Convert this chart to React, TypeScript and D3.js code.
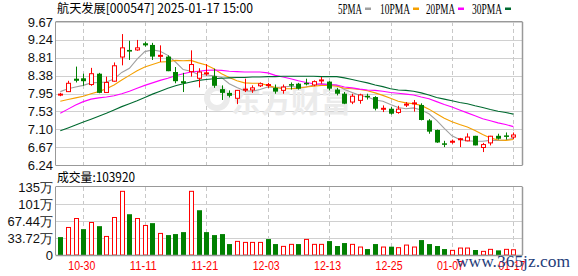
import React from 'react';
import * as d3 from 'd3';

const dates = [
  '10-25','10-28','10-29','10-30','10-31','11-01','11-04','11-05','11-06','11-07','11-08',
  '11-11','11-12','11-13','11-14','11-15','11-18','11-19','11-20','11-21','11-22',
  '11-25','11-26','11-27','11-28','11-29','12-02','12-03','12-04','12-05','12-06',
  '12-09','12-10','12-11','12-12','12-13','12-16','12-17','12-18','12-19','12-20',
  '12-23','12-24','12-25','12-26','12-27','12-30','12-31','01-02','01-03','01-06',
  '01-07','01-08','01-09','01-10','01-13','01-14','01-15','01-16','01-17'
];

const opens = [7.92,8.00,8.31,8.32,8.17,8.43,7.98,8.25,8.83,9.00,9.00,9.16,9.12,8.83,8.84,8.47,8.25,8.48,8.32,8.42,
  8.37,8.06,7.97,7.84,8.04,8.04,8.14,8.15,8.09,8.03,8.18,8.19,8.21,8.16,8.26,8.24,8.05,7.95,7.75,7.79,
  7.90,7.87,7.57,7.59,7.50,7.68,7.71,7.68,7.31,7.08,6.76,6.78,6.85,6.82,6.94,6.66,6.77,6.94,6.95,6.91];
const highs = [7.97,8.26,8.60,8.43,8.57,8.45,8.36,8.70,9.38,9.22,9.24,9.20,9.17,9.11,8.87,8.59,8.45,8.99,8.56,8.66,
  8.55,8.15,8.03,8.04,8.31,8.15,8.22,8.21,8.17,8.17,8.22,8.21,8.31,8.27,8.35,8.25,8.09,7.99,7.95,7.95,
  7.95,7.89,7.67,7.63,7.66,7.75,7.80,7.72,7.34,7.09,6.82,6.85,6.89,7.00,6.94,6.77,6.94,6.99,7.02,7.02];
const lows = [7.89,7.99,8.22,8.14,8.14,7.96,7.98,8.24,8.63,8.76,8.98,9.08,8.76,8.71,8.49,8.20,7.99,8.36,8.10,8.38,
  8.09,7.80,7.86,7.70,7.99,7.97,8.11,8.09,7.95,7.95,8.05,8.05,8.15,8.13,8.19,8.03,7.91,7.70,7.70,7.71,
  7.81,7.55,7.51,7.45,7.47,7.63,7.52,7.31,6.99,6.77,6.67,6.75,6.67,6.81,6.71,6.55,6.71,6.85,6.85,6.86];
const closes = [7.94,8.20,8.26,8.25,8.43,7.97,8.22,8.62,9.05,8.96,9.05,9.11,8.84,8.87,8.49,8.25,8.20,8.65,8.47,8.45,
  8.14,7.97,7.90,8.03,8.06,8.09,8.19,8.17,8.00,8.11,8.16,8.07,8.20,8.24,8.28,8.07,7.95,7.71,7.89,7.92,
  7.88,7.59,7.60,7.47,7.58,7.70,7.73,7.32,7.04,6.78,6.75,6.81,6.87,6.91,6.71,6.73,6.93,6.87,6.94,6.96];
const prevClose = 7.98;

// volume in 万
const volumes = [35.5,54.6,72.4,51.3,64.5,57.2,36.8,74.4,126.3,80.9,72.4,58.6,63.2,42.8,39.5,41.5,45.4,126.3,88.8,45.4,
  39.5,41.5,21.7,27.0,25.0,25.0,25.0,31.6,21.7,17.1,21.1,21.7,30.9,21.1,21.1,27.6,17.8,23.7,21.1,15.8,
  11.8,21.7,15.8,16.5,14.5,19.7,15.8,29.6,21.7,17.8,11.8,9.2,13.8,13.8,9.9,7.2,11.2,9.2,11.2,10.39];

const ma5 = [8.00,8.07,8.11,8.15,8.21,8.22,8.23,8.30,8.46,8.56,8.78,8.96,9.00,8.97,8.87,8.71,8.53,8.49,8.41,8.40,
  8.38,8.34,8.19,8.10,8.02,8.01,8.05,8.11,8.10,8.11,8.13,8.10,8.11,8.16,8.19,8.17,8.15,8.05,7.98,7.91,
  7.87,7.80,7.77,7.69,7.62,7.59,7.61,7.56,7.47,7.31,7.12,6.94,6.85,6.82,6.81,6.81,6.83,6.83,6.84,6.88];
const ma10 = [7.77,7.81,7.85,7.89,7.95,8.00,8.07,8.16,8.28,8.39,8.50,8.59,8.65,8.71,8.72,8.75,8.74,8.75,8.69,8.64,
  8.55,8.43,8.34,8.26,8.21,8.20,8.20,8.15,8.10,8.07,8.07,8.08,8.11,8.13,8.15,8.15,8.13,8.08,8.07,8.05,
  8.02,7.97,7.91,7.84,7.77,7.73,7.71,7.67,7.58,7.47,7.36,7.28,7.21,7.15,7.07,6.97,6.89,6.84,6.83,6.85];
const ma20 = [7.48,7.58,7.68,7.76,7.82,7.85,7.87,7.90,7.95,8.01,8.08,8.15,8.21,8.27,8.32,8.38,8.43,8.47,8.49,8.51,
  8.52,8.51,8.49,8.48,8.47,8.47,8.47,8.45,8.39,8.35,8.31,8.26,8.22,8.19,8.18,8.17,8.16,8.11,8.09,8.06,
  8.04,8.03,8.01,7.98,7.96,7.94,7.92,7.87,7.83,7.76,7.69,7.63,7.56,7.49,7.42,7.35,7.30,7.25,7.21,7.16];
const ma30 = [7.06,7.13,7.20,7.27,7.34,7.41,7.48,7.56,7.64,7.71,7.78,7.86,7.94,8.01,8.08,8.14,8.19,8.23,8.27,8.29,
  8.31,8.32,8.33,8.34,8.34,8.35,8.35,8.36,8.36,8.37,8.37,8.37,8.37,8.37,8.36,8.36,8.36,8.33,8.29,8.25,
  8.21,8.16,8.12,8.07,8.04,8.03,8.01,7.97,7.92,7.86,7.82,7.78,7.74,7.71,7.66,7.62,7.57,7.53,7.50,7.46];

const priceTicks = ['9.67','9.24','8.81','8.38','7.95','7.53','7.10','6.67','6.24'];
const volTickValues = [134.88, 101.16, 67.44, 33.72, 0];
const volTickLabels = ['135万', '101万', '67.44万', '33.72万', '0'];
const dateTicks = ['10-30','11-11','11-21','12-03','12-13','12-25','01-07','01-17'];

const maNames = ['5PMA', '10PMA', '20PMA', '30PMA'];
const maColors = ['#a0a0a0', '#f5a000', '#ff00ff', '#006a30'];

const RED = '#ff0000';
const GREEN = '#008000';

export default function App() {
  const left = 55.5, right = 522.5;
  const pTop = 22, pBot = 165;
  const vTop = 187, vBot = 255;

  const x = d3.scalePoint<string>().domain(dates).range([60.3, 513.4]);
  const yP = d3.scaleLinear().domain([6.24, 9.67]).range([pBot, pTop]);
  const yV = d3.scaleLinear().domain([0, 134.88]).range([vBot, vTop]);

  const line = d3.line<number>()
    .x((_, i) => x(dates[i]) as number)
    .y(d => yP(d));

  const mas = [ma5, ma10, ma20, ma30];
  const sans = '"Liberation Sans", Arial, sans-serif';
  const cjk = '"Noto Sans CJK SC", "Liberation Sans", sans-serif';

  return (
    <svg width={578} height={276} style={{ position: 'absolute', left: 0, top: 0, background: '#fff' }}>
      <rect x={0} y={0} width={578} height={276} fill="#fff" />
      {/* title */}
      <text x={57} y={13} fontSize={12.5} fontFamily={cjk} fill="#000" textLength={196} lengthAdjust="spacingAndGlyphs">航天发展[000547] 2025-01-17 15:00</text>
      {/* legend */}
      {maNames.map((n, i) => {
        const lx = [338, 380, 426, 472][i];
        const w = [24, 30, 29, 30][i];
        return (
          <g key={n}>
            <text x={lx} y={13.5} fontSize={14} fontFamily='"Liberation Serif", serif' fill="#000" textLength={w} lengthAdjust="spacingAndGlyphs">{n}</text>
            <rect x={lx + w + 3} y={7.5} width={6} height={2.5} fill={maColors[i]} />
          </g>
        );
      })}

      {/* price grid */}
      {priceTicks.map(t => (
        <g key={'pt' + t}>
          <line x1={left} x2={right} y1={Math.round(yP(+t)) + 0.5} y2={Math.round(yP(+t)) + 0.5} stroke="#d0d0d0" />
          <text x={53} y={yP(+t) + 4.5} fontSize={13} fontFamily={sans} textAnchor="end" fill="#111">{t}</text>
        </g>
      ))}
      {dateTicks.map(d => (
        <g key={'vg' + d}>
          <line x1={Math.round(x(d) as number) + 0.5} x2={Math.round(x(d) as number) + 0.5} y1={pTop} y2={pBot} stroke="#c8c8c8" strokeDasharray="4,3" />
          <line x1={Math.round(x(d) as number) + 0.5} x2={Math.round(x(d) as number) + 0.5} y1={vTop} y2={vBot} stroke="#c8c8c8" strokeDasharray="4,3" />
        </g>
      ))}

      {/* watermark */}
      <g>
        <circle cx={217} cy={98} r={10} fill="none" stroke="#ebebeb" strokeWidth={6} />
        <text x={231} y={112} fontSize={30} fontWeight="bold" fontFamily={cjk} fill="#ebebeb">东方财富</text>
      </g>

      {/* MA lines */}
      {mas.map((m, i) => (
        <path key={'ma' + i} d={line(m) || ''} fill="none" stroke={maColors[i]} strokeWidth={1.1} />
      ))}

      {/* candles */}
      {dates.map((d, i) => {
        const cx = Math.round(x(d) as number);
        const o = opens[i], c = closes[i], h = highs[i], l = lows[i];
        const up = c >= o;
        const col = up ? RED : GREEN;
        const top = yP(Math.max(o, c));
        const bot = yP(Math.min(o, c));
        const bh = Math.max(1, bot - top);
        return (
          <g key={'c' + d}>
            <line x1={cx + 0.5} x2={cx + 0.5} y1={yP(h)} y2={yP(l)} stroke={col} strokeWidth={1} />
            {up ? (
              bh > 2 ? (
                <rect x={cx - 2 + 0.5} y={top} width={4} height={bh} fill="#fff" stroke={col} strokeWidth={1} />
              ) : (
                <rect x={cx - 2} y={top - 0.5} width={5} height={Math.max(2, bh)} fill={col} />
              )
            ) : (
              <rect x={cx - 2} y={top} width={5} height={Math.max(1.5, bh)} fill={col} />
            )}
          </g>
        );
      })}

      {/* price border */}
      <line x1={left} x2={left} y1={pTop} y2={pBot} stroke="#999" />
      <line x1={left} x2={right} y1={pTop - 0.5} y2={pTop - 0.5} stroke="#999" />
      <line x1={right} x2={right} y1={pTop} y2={pBot} stroke="#999" strokeWidth={1.5} />
      <line x1={left} x2={right} y1={pBot + 0.5} y2={pBot + 0.5} stroke="#999" />

      {/* volume title */}
      <text x={57} y={182} fontSize={12.5} fontFamily={cjk} fill="#000" textLength={78} lengthAdjust="spacingAndGlyphs">成交量:103920</text>

      {/* volume grid */}
      {volTickValues.map((v, i) => (
        <g key={'vt' + i}>
          {v > 0 && v < 134 ? (
            <line x1={left} x2={right} y1={Math.round(yV(v)) + 0.5} y2={Math.round(yV(v)) + 0.5} stroke="#d0d0d0" />
          ) : null}
          <text x={53} y={yV(v) + 4.5} fontSize={13} fontFamily={sans} textAnchor="end" fill="#111">{volTickLabels[i]}</text>
        </g>
      ))}

      {/* volume bars */}
      {dates.map((d, i) => {
        const cx = Math.round(x(d) as number);
        const pc = i === 0 ? prevClose : closes[i - 1];
        const up = closes[i] >= pc;
        const top = yV(volumes[i]);
        if (up) {
          return <rect key={'v' + d} x={cx - 2 + 0.5} y={top} width={4} height={vBot - top} fill="#fff" stroke={RED} strokeWidth={1} />;
        }
        return <rect key={'v' + d} x={cx - 2} y={top} width={5} height={vBot - top} fill={GREEN} />;
      })}

      {/* volume border */}
      <line x1={left} x2={left} y1={vTop} y2={vBot} stroke="#999" />
      <line x1={left} x2={right} y1={vTop - 0.5} y2={vTop - 0.5} stroke="#999" />
      <line x1={right} x2={right} y1={vTop} y2={vBot} stroke="#999" strokeWidth={1.5} />
      <line x1={left} x2={right} y1={vBot + 0.5} y2={vBot + 0.5} stroke="#999" strokeWidth={1.5} />

      {/* date labels */}
      {dateTicks.map(d => (
        <text key={'dl' + d} x={(x(d) as number) - 1.5} y={270} fontSize={12} fontFamily={sans} textAnchor="middle" fill={RED} textLength={27} lengthAdjust="spacingAndGlyphs">{d}</text>
      ))}

      {/* site watermark */}
      <text x={456} y={267} fontSize={17} fontFamily='"Liberation Serif", serif' fill="#1f3d7a" textLength={114} lengthAdjust="spacingAndGlyphs">www.365jz.com</text>
    </svg>
  );
}
